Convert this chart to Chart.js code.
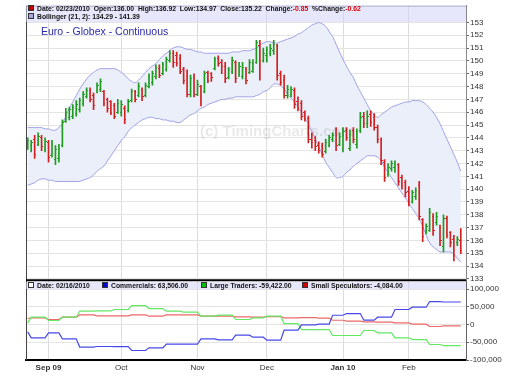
<!DOCTYPE html>
<html>
<head>
<meta charset="utf-8">
<script src="https://cdn.jsdelivr.net/npm/chart.js@4.4.1/dist/chart.umd.min.js"></script>
<style>
  html, body { margin: 0; padding: 0; background: #fff; }
  #wrap { position: relative; width: 512px; height: 384px; font-family: "Liberation Sans", Arial, sans-serif; }
  #myChart { position: absolute; left: 0; top: 0; }
  .band { position: absolute; left: 26px; width: 440px; background: rgba(212, 212, 250, 0.55); }
  .hdr { position: absolute; font-size: 6.8px; font-weight: bold; color: #111; white-space: nowrap; line-height: 8px; }
  .sq { display: inline-block; width: 4px; height: 4px; border: 1px solid #333; margin-right: 3px; vertical-align: 0px; }
  .neg { color: #e00000; }
  #title { position: absolute; left: 41px; top: 25px; font-size: 10.5px; color: #2b2bb0; white-space: nowrap; }
  #mark { position: absolute; left: 200px; top: 122px; font-size: 15px; font-weight: bold; color: rgba(0, 0, 0, 0.09); white-space: nowrap; }
</style>
</head>
<body>
<div id="wrap">
  <canvas id="myChart" width="512" height="384"></canvas>
  <div class="band" style="top:5px;height:17px;"></div>
  <div class="hdr" style="left:28px;top:5px;"><span class="sq" style="background:#c00000"></span>Date: 02/23/2010&nbsp; Open:136.00&nbsp; High:136.92&nbsp; Low:134.97&nbsp; Close:135.22&nbsp; Change:<span class="neg">-0.85</span>&nbsp; %Change:<span class="neg">-0.62</span></div>
  <div class="hdr" style="left:28px;top:13px;"><span class="sq" style="background:#a8a8e0"></span>Bollinger (21, 2): 134.29 - 141.39</div>
  <div id="title">Euro - Globex - Continuous</div>
  <div id="mark">(c) TimingCharts.com</div>
  <div class="band" style="top:282px;height:7px;"></div>
  <div class="hdr" style="left:28px;top:281.5px;"><span class="sq" style="background:#fff"></span>Date: 02/16/2010</div>
  <div class="hdr" style="left:102px;top:281.5px;"><span class="sq" style="background:#0000d0"></span>Commercials: 63,506.00</div>
  <div class="hdr" style="left:201px;top:281.5px;"><span class="sq" style="background:#00c000"></span>Large Traders: -59,422.00</div>
  <div class="hdr" style="left:302px;top:281.5px;"><span class="sq" style="background:#d00000"></span>Small Speculators: -4,084.00</div>
</div>
<script>
// trading days (Euro FX futures, daily bars)
const dates = [
  '2009-08-24','2009-08-25','2009-08-26','2009-08-27','2009-08-28','2009-08-31',
  '2009-09-01','2009-09-02','2009-09-03','2009-09-04','2009-09-08','2009-09-09','2009-09-10','2009-09-11',
  '2009-09-14','2009-09-15','2009-09-16','2009-09-17','2009-09-18','2009-09-21','2009-09-22','2009-09-23',
  '2009-09-24','2009-09-25','2009-09-28','2009-09-29','2009-09-30',
  '2009-10-01','2009-10-02','2009-10-05','2009-10-06','2009-10-07','2009-10-08','2009-10-09','2009-10-12',
  '2009-10-13','2009-10-14','2009-10-15','2009-10-16','2009-10-19','2009-10-20','2009-10-21','2009-10-22',
  '2009-10-23','2009-10-26','2009-10-27','2009-10-28','2009-10-29','2009-10-30',
  '2009-11-02','2009-11-03','2009-11-04','2009-11-05','2009-11-06','2009-11-09','2009-11-10','2009-11-11',
  '2009-11-12','2009-11-13','2009-11-16','2009-11-17','2009-11-18','2009-11-19','2009-11-20','2009-11-23',
  '2009-11-24','2009-11-25','2009-11-27','2009-11-30',
  '2009-12-01','2009-12-02','2009-12-03','2009-12-04','2009-12-07','2009-12-08','2009-12-09','2009-12-10',
  '2009-12-11','2009-12-14','2009-12-15','2009-12-16','2009-12-17','2009-12-18','2009-12-21','2009-12-22',
  '2009-12-23','2009-12-24','2009-12-28','2009-12-29','2009-12-30','2009-12-31',
  '2010-01-04','2010-01-05','2010-01-06','2010-01-07','2010-01-08','2010-01-11','2010-01-12','2010-01-13',
  '2010-01-14','2010-01-15','2010-01-19','2010-01-20','2010-01-21','2010-01-22','2010-01-25','2010-01-26',
  '2010-01-27','2010-01-28','2010-01-29',
  '2010-02-01','2010-02-02','2010-02-03','2010-02-04','2010-02-05','2010-02-08','2010-02-09','2010-02-10',
  '2010-02-11','2010-02-12','2010-02-16','2010-02-17','2010-02-18','2010-02-19','2010-02-22','2010-02-23'
];

const opens = [
  143.3,143.4,143.9,143.5,144.0,143.1,143.6,142.6,142.3,142.4,143.4,145.3,145.6,145.7,145.9,146.2,
  146.7,147.2,147.7,147.3,147.6,147.8,147.6,147.0,146.8,146.5,146.0,146.0,146.3,146.1,146.9,147.6,
  147.3,147.8,147.3,148.0,148.3,148.8,149.4,149.0,149.3,150.0,150.6,150.4,150.2,149.3,148.8,147.4,
  148.7,147.4,148.0,147.6,149.1,149.0,149.4,150.2,149.9,149.6,148.7,149.2,149.9,148.8,148.8,149.3,
  149.1,149.2,149.9,151.2,150.0,150.4,150.6,150.8,151.2,149.0,148.5,147.3,147.4,147.7,146.8,146.7,
  146.0,145.5,143.9,143.8,143.4,143.3,142.9,143.4,143.9,144.4,143.5,143.1,144.6,143.2,144.6,143.5,
  144.6,145.7,145.1,145.8,145.6,144.8,143.9,142.1,141.2,141.6,141.7,141.9,140.9,140.5,139.8,139.0,
  139.4,140.3,137.6,136.7,136.8,137.9,137.4,137.0,135.5,137.7,136.6,136.1,135.8,136.00
];
const highs = [
  144.0,143.8,144.2,144.4,144.2,144.0,143.8,143.8,143.4,143.5,145.4,146.3,146.4,146.6,146.9,147.1,
  147.6,147.9,147.9,147.5,148.3,148.6,147.7,147.1,146.9,146.7,147.0,146.9,146.5,147.0,147.8,147.7,
  148.3,147.9,148.3,149.0,149.2,149.7,149.7,149.9,150.3,150.8,150.8,150.7,150.5,149.5,149.3,148.9,
  149.0,148.5,148.1,149.2,149.2,149.1,150.3,150.4,150.1,149.9,149.5,150.3,150.0,149.9,149.9,149.5,
  150.1,150.1,151.6,151.6,151.0,151.1,151.3,151.6,151.3,149.2,148.9,148.1,148.0,147.9,147.2,146.9,
  146.1,145.7,144.4,144.1,143.7,143.6,143.9,144.2,144.4,144.8,144.4,144.8,144.8,144.6,144.8,144.7,
  146.0,146.0,146.1,146.1,145.9,145.0,144.0,142.3,142.0,142.2,142.2,142.0,141.1,140.7,140.2,139.9,
  140.1,140.6,137.7,137.3,138.5,138.1,138.2,137.2,138.0,137.9,136.7,136.4,136.3,136.92
];
const lows = [
  143.1,142.9,142.4,143.4,143.0,142.9,142.1,142.5,141.9,142.1,143.3,145.2,145.4,145.5,145.7,146.0,
  146.5,147.1,146.8,146.2,147.5,147.6,146.5,146.0,145.8,145.5,145.9,145.7,145.1,146.0,146.8,146.8,
  147.2,146.9,147.2,147.9,148.1,148.6,148.7,148.9,149.2,149.9,149.5,149.6,149.0,148.2,147.2,147.2,
  147.2,147.3,146.5,147.5,148.3,148.4,149.3,149.6,149.0,148.3,148.6,149.0,148.3,148.8,148.6,148.2,
  149.0,149.1,149.8,148.5,149.9,149.9,150.4,150.5,148.5,148.1,147.1,147.1,147.2,146.3,146.1,145.4,
  145.3,143.6,143.2,143.0,142.8,142.5,142.8,143.3,143.7,143.0,143.4,142.9,143.8,143.0,143.6,143.2,
  144.4,144.8,144.8,144.9,144.6,143.6,141.9,140.6,141.0,141.4,141.3,140.3,140.0,139.4,138.7,138.9,
  139.2,137.6,135.9,136.5,136.7,136.4,137.2,135.6,135.1,136.2,135.5,134.4,135.6,134.97
];
const closes = [
  143.8,143.6,142.7,144.1,143.3,143.7,142.5,143.5,143.1,143.2,145.2,146.0,146.2,146.4,146.6,146.9,
  147.4,147.7,147.0,146.5,148.1,148.4,146.7,146.3,146.0,145.7,146.7,146.6,145.4,146.8,147.6,147.0,
  148.0,147.2,148.1,148.8,149.0,149.5,148.9,149.7,150.1,150.6,149.9,149.8,149.2,148.5,147.4,148.6,
  147.4,148.2,146.8,149.0,148.5,148.7,150.1,149.8,149.6,148.6,149.3,150.0,148.6,149.6,149.5,148.5,
  149.9,149.8,151.4,150.0,150.6,150.9,151.0,151.3,148.9,148.3,147.3,147.8,147.8,146.6,146.4,145.7,
  145.5,143.9,143.6,143.3,143.0,142.7,143.6,144.0,144.2,143.4,144.1,144.5,144.0,144.3,143.9,144.5,
  145.6,145.1,145.7,145.2,144.8,143.9,142.2,140.9,141.7,142.0,141.9,140.6,140.3,139.7,139.0,139.7,
  139.9,137.9,136.3,137.1,138.2,136.8,137.9,136.0,137.7,136.5,135.8,134.8,136.1,135.22
];

// Bollinger (21, 2) bands as drawn
const bollUpper = [
  144.8,144.8,144.8,144.8,144.8,144.7,144.7,144.6,144.6,144.8,145.1,145.7,146.3,146.8,147.3,147.8,
  148.2,148.6,148.9,149.1,149.3,149.4,149.4,149.4,149.4,149.4,149.3,149.1,148.9,148.6,148.4,148.3,
  148.5,148.8,149.1,149.4,149.6,149.8,150.1,150.4,150.6,150.8,151.0,151.1,151.1,151.0,150.9,150.9,
  150.8,150.7,150.7,150.6,150.6,150.6,150.6,150.6,150.6,150.6,150.6,150.7,150.7,150.7,150.8,150.8,
  150.8,150.9,151.0,151.2,151.4,151.5,151.5,151.4,151.4,151.5,151.6,151.7,151.8,151.9,152.1,152.2,
  152.4,152.6,152.8,152.9,153.0,152.9,152.7,152.3,151.9,151.3,150.7,150.1,149.6,149.1,148.7,148.1,
  147.6,147.1,146.6,146.1,145.8,145.6,145.8,146.0,146.2,146.4,146.5,146.6,146.7,146.8,146.8,146.9,
  146.9,146.9,146.8,146.6,146.3,146.0,145.6,145.1,144.5,143.9,143.3,142.7,142.1,141.39
];
const bollLower = [
  140.3,140.4,140.5,140.7,140.8,140.8,140.7,140.7,140.6,140.6,140.6,140.6,140.6,140.6,140.6,140.6,
  140.7,140.8,140.9,141.1,141.4,141.6,141.8,142.2,142.6,143.0,143.4,143.8,144.1,144.5,144.8,145.0,
  145.2,145.4,145.5,145.6,145.6,145.5,145.5,145.4,145.4,145.3,145.3,145.2,145.2,145.4,145.6,145.8,
  145.9,146.1,146.3,146.4,146.6,146.7,146.8,146.9,147.0,147.0,147.1,147.1,147.2,147.2,147.2,147.2,
  147.2,147.2,147.3,147.4,147.6,147.7,147.9,148.2,148.2,148.1,147.8,147.4,147.1,146.8,146.4,146.0,
  145.5,145.1,144.5,143.9,143.3,142.7,142.1,141.7,141.3,140.9,140.9,141.0,141.3,141.5,141.8,142.0,
  142.2,142.4,142.6,142.6,142.6,142.5,142.2,141.7,141.3,140.9,140.5,140.1,139.7,139.3,138.9,138.5,
  138.1,137.7,137.1,136.4,135.8,135.5,135.3,135.1,135.1,135.1,135.1,134.9,134.6,134.29
];

// weekly Commitments of Traders (net positions, report dates)
const cotDates = [
  '2009-08-18','2009-08-25','2009-09-01','2009-09-08','2009-09-15','2009-09-22','2009-09-29',
  '2009-10-06','2009-10-13','2009-10-20','2009-10-27','2009-11-03','2009-11-10','2009-11-17',
  '2009-11-24','2009-12-01','2009-12-08','2009-12-15','2009-12-22','2009-12-29','2010-01-05',
  '2010-01-12','2010-01-19','2010-01-26','2010-02-02','2010-02-09','2010-02-16'
];
const commercials = [
  -20600,-37500,-23400,-40300,-63500,-62000,-62500,-73200,-65600,-55400,-55400,-40300,-43200,-30000,
  -35700,-44100,-16000,-1000,1000,26200,31000,12200,20600,42300,48800,64800,63506
];
const largeTraders = [
  4700,20600,11300,20600,38000,38500,42300,53500,45100,37600,34700,23500,26300,14100,
  18800,23500,2800,-14100,-14100,-31000,-31000,-16900,-23400,-37500,-42300,-56300,-59422
];
const smallSpecs = [
  16900,18800,14100,20600,27000,24400,24400,27200,23500,27200,27200,23500,23500,21600,
  20600,22500,18800,19700,17800,12000,9400,7500,6600,4700,900,-5600,-4084
];

// axis ticks
const priceTicks = [133,134,135,136,137,138,139,140,141,142,143,144,145,146,147,148,149,150,151,152,153];
const cotTicks = [-100000, -50000, 0, 50000, 100000];
const monthTickDates = ['2009-09-01','2009-10-01','2009-11-02','2009-12-01','2010-01-04','2010-02-01'];
const monthTickText = ['Sep 09','Oct','Nov','Dec','Jan 10','Feb'];
const boldTicks = ['Sep 09','Jan 10'];

const UP = '#1e9b1e';
const DOWN = '#d02020';

// each trading day carries the latest weekly report
function cotDaily(values) {
    return dates.map(d => {
        let k = 0;
        for (let j = 0; j < cotDates.length; j++) {
            if (cotDates[j] <= d) k = j;
        }
        return values[k];
    });
}

function tickImage(color, side) {
    const c = document.createElement('canvas');
    c.width = 3;
    c.height = 1;
    const g = c.getContext('2d');
    g.fillStyle = color;
    g.fillRect(side === 'open' ? 0 : 2, 0, 1, 1);
    return c;
}
const openUp = tickImage(UP, 'open'), openDown = tickImage(DOWN, 'open');
const closeUp = tickImage(UP, 'close'), closeDown = tickImage(DOWN, 'close');
const isUp = i => closes[i] >= opens[i];

const panelFrame = {
    id: 'panelFrame',
    afterDraw(chart) {
        const {ctx, chartArea: a, scales} = chart;
        ctx.save();
        ctx.strokeStyle = '#999';
        ctx.lineWidth = 1;
        ctx.beginPath();
        ctx.moveTo(a.left, a.top + 0.5);
        ctx.lineTo(a.right, a.top + 0.5);
        ctx.stroke();
        ctx.strokeStyle = '#444';
        ctx.beginPath();
        ctx.moveTo(a.left + 0.5, a.top);
        ctx.lineTo(a.left + 0.5, a.bottom);
        ctx.stroke();
        ctx.strokeStyle = '#000';
        ctx.lineWidth = 2;
        ctx.beginPath();
        ctx.moveTo(a.left, scales.y.bottom);
        ctx.lineTo(a.right, scales.y.bottom);
        ctx.stroke();
        ctx.restore();
    }
};

Chart.defaults.font.family = '"Liberation Sans", Arial, sans-serif';

const labels = dates.concat(['']);
const ctx = document.getElementById('myChart');

new Chart(ctx, {
    type: 'bar',
    data: {
        labels: labels,
        datasets: [
            {
                type: 'line',
                label: 'Bollinger upper',
                data: bollUpper,
                yAxisID: 'y',
                borderColor: 'rgba(160, 160, 228, 1)',
                borderWidth: 1,
                backgroundColor: 'rgba(234, 239, 250, 1)',
                fill: '+1',
                pointRadius: 0,
                tension: 0.3,
                order: 5
            },
            {
                type: 'line',
                label: 'Bollinger lower',
                data: bollLower,
                yAxisID: 'y',
                borderColor: 'rgba(160, 160, 228, 1)',
                borderWidth: 1,
                fill: false,
                pointRadius: 0,
                tension: 0.3,
                order: 4
            },
            {
                type: 'bar',
                label: 'High-Low',
                data: lows.map((l, i) => [l, highs[i]]),
                yAxisID: 'y',
                backgroundColor: opens.map((o, i) => isUp(i) ? UP : DOWN),
                barThickness: 1,
                borderWidth: 0,
                order: 2
            },
            {
                type: 'line',
                label: 'Open',
                data: opens,
                yAxisID: 'y',
                showLine: false,
                pointRadius: 1,
                pointStyle: c => isUp(c.dataIndex) ? openUp : openDown,
                order: 1
            },
            {
                type: 'line',
                label: 'Close',
                data: closes,
                yAxisID: 'y',
                showLine: false,
                pointRadius: 1,
                pointStyle: c => isUp(c.dataIndex) ? closeUp : closeDown,
                order: 1
            },
            {
                type: 'line',
                label: 'Commercials',
                data: cotDaily(commercials),
                yAxisID: 'y2',
                borderColor: 'rgb(72, 72, 232)',
                borderWidth: 1.2,
                pointRadius: 0,
                fill: false,
                order: 3
            },
            {
                type: 'line',
                label: 'Large Traders',
                data: cotDaily(largeTraders),
                yAxisID: 'y2',
                borderColor: 'rgb(100, 232, 100)',
                borderWidth: 1.2,
                pointRadius: 0,
                fill: false,
                order: 3
            },
            {
                type: 'line',
                label: 'Small Speculators',
                data: cotDaily(smallSpecs),
                yAxisID: 'y2',
                borderColor: 'rgb(236, 104, 104)',
                borderWidth: 1.2,
                pointRadius: 0,
                fill: false,
                order: 3
            }
        ]
    },
    options: {
        responsive: false,
        animation: false,
        devicePixelRatio: 1,
        layout: { padding: { left: 26, top: 5, right: 0, bottom: 0 } },
        plugins: {
            legend: { display: false },
            tooltip: { enabled: false }
        },
        scales: {
            x: {
                offset: true,
                afterFit: s => { s.height = 24; },
                grid: {
                    offset: false,
                    drawTicks: false,
                    color: c => (c.tick && monthTickDates.includes(labels[c.index])) ? '#dcdcdc' : 'rgba(0,0,0,0)'
                },
                border: { color: '#000', width: 2 },
                ticks: {
                    autoSkip: false,
                    maxRotation: 0,
                    minRotation: 0,
                    padding: 3,
                    color: '#333',
                    font: c => ({
                        size: 8,
                        weight: boldTicks.includes(monthTickText[monthTickDates.indexOf(labels[c.index])]) ? 'bold' : 'normal'
                    }),
                    callback: (v, i) => {
                        const k = monthTickDates.indexOf(labels[i]);
                        return k >= 0 ? monthTickText[k] : '';
                    }
                }
            },
            y: {
                position: 'right',
                stack: 'panels',
                stackWeight: 275,
                min: 132.9,
                max: 154.3,
                afterFit: s => { s.width = 46; },
                afterBuildTicks: s => { s.ticks = priceTicks.map(v => ({ value: v })); },
                grid: {
                    color: '#e4e4e4',
                    tickColor: '#666',
                    tickLength: 3
                },
                border: { color: '#888' },
                ticks: {
                    autoSkip: false,
                    padding: 1,
                    color: '#333',
                    font: { size: 8 },
                    callback: v => String(v)
                }
            },
            y2: {
                position: 'right',
                stack: 'panels',
                stackWeight: 80,
                min: -100000,
                max: 125000,
                afterFit: s => { s.width = 46; },
                afterBuildTicks: s => { s.ticks = cotTicks.map(v => ({ value: v })); },
                grid: {
                    color: '#e4e4e4',
                    tickColor: '#666',
                    tickLength: 3
                },
                border: { color: '#666' },
                ticks: {
                    autoSkip: false,
                    padding: 1,
                    color: '#333',
                    font: { size: 8 },
                    callback: v => v.toLocaleString('en-US')
                }
            }
        }
    },
    plugins: [panelFrame]
});
</script>
</body>
</html>
